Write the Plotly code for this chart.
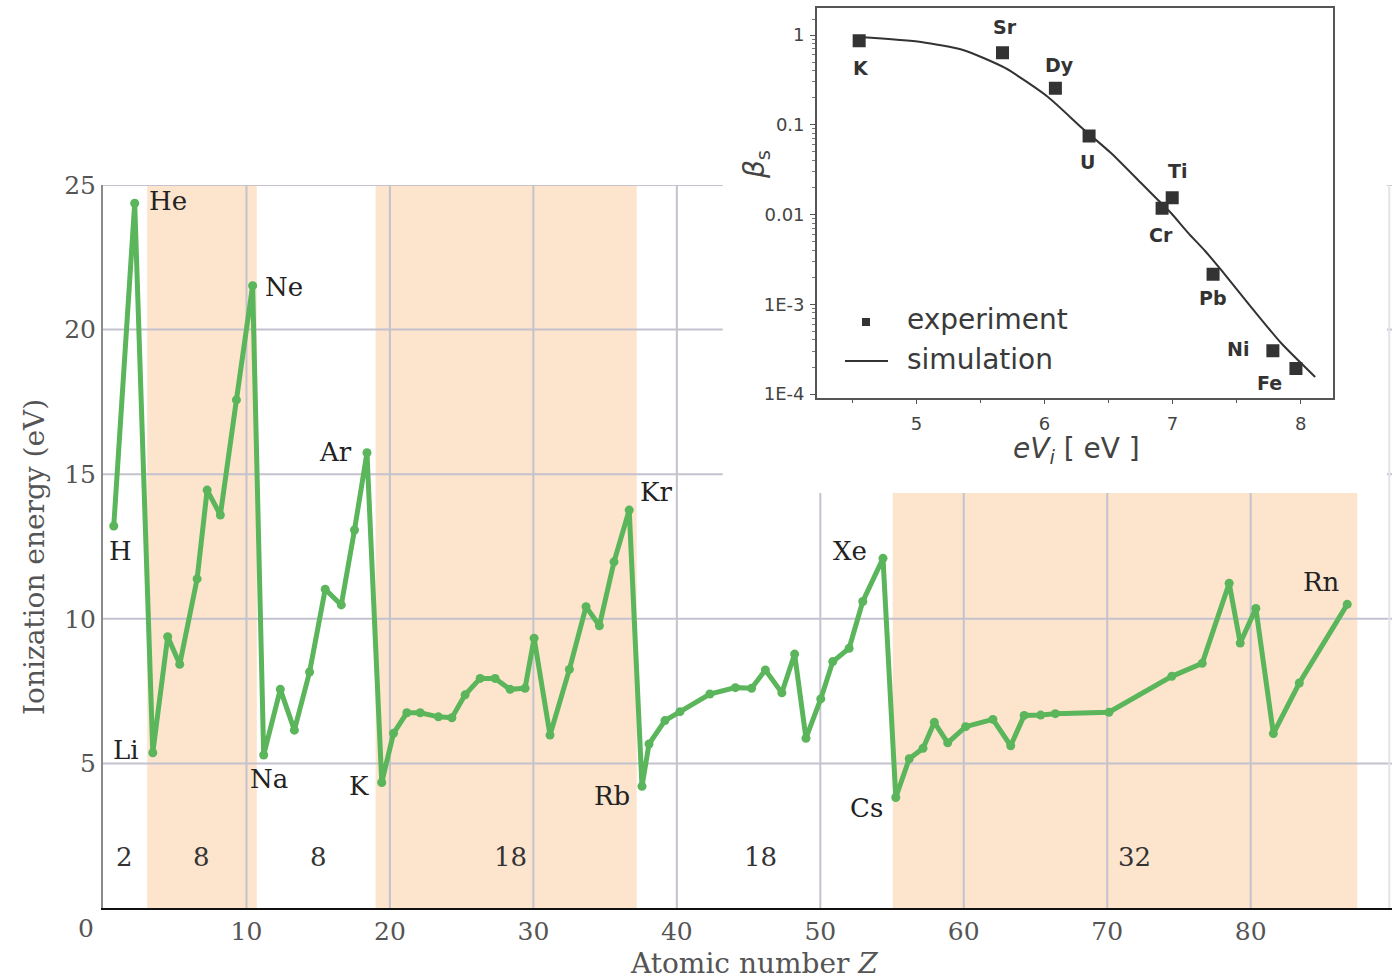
import math
import plotly.graph_objects as go

W, H = 1394, 979

# ---------------- main chart data ----------------
z_vals = [0.75, 2.21, 3.47, 4.51, 5.35, 6.56, 7.26, 8.18, 9.30, 10.43,
          11.20, 12.36, 13.34, 14.40, 15.49, 16.61, 17.53, 18.40, 19.43, 20.25,
          21.18, 22.11, 23.38, 24.32, 25.24, 26.29, 27.33, 28.38, 29.42, 30.05,
          31.16, 32.51, 33.67, 34.60, 35.62, 36.68, 37.57, 38.06, 39.17, 40.22,
          42.30, 44.08, 45.21, 46.17, 47.32, 48.21, 49.00, 50.03, 50.87, 52.01,
          52.96, 54.37, 55.26, 56.20, 57.16, 57.95, 58.88, 60.13, 62.03, 63.27,
          64.21, 65.36, 66.38, 70.12, 74.50, 76.62, 78.50, 79.27, 80.36, 81.58,
          83.39, 86.73]
ie_vals = [13.21, 24.37, 5.37, 9.38, 8.43, 11.38, 14.45, 13.59, 17.57, 21.52,
           5.29, 7.56, 6.15, 8.16, 11.02, 10.48, 13.07, 15.74, 4.34, 6.04,
           6.75, 6.75, 6.61, 6.58, 7.37, 7.94, 7.94, 7.56, 7.60, 9.33,
           5.98, 8.25, 10.42, 9.76, 11.97, 13.76, 4.21, 5.67, 6.48, 6.79,
           7.40, 7.62, 7.60, 8.23, 7.44, 8.78, 5.87, 7.23, 8.52, 8.98,
           10.60, 12.09, 3.82, 5.16, 5.52, 6.42, 5.71, 6.27, 6.52, 5.61,
           6.66, 6.67, 6.72, 6.77, 8.01, 8.46, 11.23, 9.16, 10.36, 6.03,
           7.78, 10.50]

element_names = ["H", "He", "Li", "Ne", "Na", "Ar", "K", "Kr", "Rb", "Xe", "Cs", "Rn"]
element_index = [0, 1, 2, 9, 10, 17, 18, 35, 36, 51, 52, 71]

band_starts = [3.08, 19.0, 55.05]
band_ends = [10.72, 37.2, 87.43]
shell_labels = ["2", "8", "8", "18", "18", "32"]
shell_x = [1.5, 6.86, 15.0, 28.4, 45.8, 71.9]

x_ticks = [10, 20, 30, 40, 50, 60, 70, 80]
y_ticks = [5, 10, 15, 20, 25]

# ---------------- inset data ----------------
exp_names = ["K", "Sr", "Dy", "U", "Ti", "Cr", "Pb", "Ni", "Fe"]
exp_x = [4.553, 5.672, 6.085, 6.348, 6.997, 6.918, 7.316, 7.783, 7.963]
exp_y = [0.864, 0.635, 0.255, 0.0749, 0.01538, 0.01172, 0.00216, 0.000303, 0.000193]

sim_x = [4.552, 5.036, 5.364, 5.692, 6.027, 6.293, 6.519, 6.754, 6.886, 6.988,
         7.121, 7.254, 7.379, 7.613, 7.847, 8.113]
sim_y = [0.950, 0.836, 0.681, 0.429, 0.204, 0.0920, 0.0484, 0.0224, 0.0145, 0.0104,
         0.00625, 0.00392, 0.00241, 0.000931, 0.000370, 0.000155]

inset_xticks = [5, 6, 7, 8]
inset_xminor = [4.5, 5.5, 6.5, 7.5]
inset_yticks = [1e-4, 1e-3, 1e-2, 1e-1, 1]
inset_yticktext = ["1E-4", "1E-3", "0.01", "0.1", "1"]

# ---------------- styling ----------------
GREEN = "#5ab55b"
BAND = "#fce4cd"
GRID = "#c4c2ce"
SERIF = "DejaVu Serif"
SANS = "DejaVu Sans"


def px_x(p):
    return p / W


def px_y(p):
    return 1 - p / H


fig = go.Figure()

fig.add_trace(go.Scatter(
    x=z_vals, y=ie_vals, mode="lines+markers",
    line=dict(color=GREEN, width=5),
    marker=dict(size=9, color=GREEN),
    xaxis="x", yaxis="y", showlegend=False, cliponaxis=False,
))

fig.add_trace(go.Scatter(
    x=sim_x, y=sim_y, mode="lines",
    line=dict(color="#333333", width=2, shape="spline", smoothing=0.6),
    xaxis="x2", yaxis="y2", showlegend=False,
))
fig.add_trace(go.Scatter(
    x=exp_x, y=exp_y, mode="markers",
    marker=dict(symbol="square", size=13, color="#333333"),
    xaxis="x2", yaxis="y2", showlegend=False,
))

shapes = []
inset_cut_y = 14.35   # y value where the inset white box ends
inset_cut_x = 43.2    # x value where the inset white box starts
band_tops = [25, 25, inset_cut_y]
for x0, x1, top in zip(band_starts, band_ends, band_tops):
    shapes.append(dict(type="rect", xref="x", yref="y", x0=x0, x1=x1, y0=0, y1=top,
                       fillcolor=BAND, line=dict(width=0), layer="below"))
for yv in y_ticks:
    if yv >= 15:
        shapes.append(dict(type="line", xref="x", yref="y", x0=0, x1=inset_cut_x, y0=yv, y1=yv,
                           line=dict(color=GRID, width=2), layer="below"))
        shapes.append(dict(type="line", xref="x", yref="y", x0=89.5, x1=89.85, y0=yv, y1=yv,
                           line=dict(color=GRID, width=2), layer="below"))
    else:
        shapes.append(dict(type="line", xref="x", yref="y", x0=0, x1=89.85, y0=yv, y1=yv,
                           line=dict(color=GRID, width=2), layer="below"))
for xv in x_ticks:
    top = 25 if xv <= 40 else inset_cut_y
    shapes.append(dict(type="line", xref="x", yref="y", x0=xv, x1=xv, y0=0, y1=top,
                       line=dict(color=GRID, width=2), layer="below"))
shapes.append(dict(type="line", xref="x", yref="y", x0=89.66, x1=89.66, y0=0, y1=25,
                   line=dict(color="#e4e4e8", width=2), layer="below"))

# inset legend symbols
shapes.append(dict(type="rect", xref="paper", yref="paper",
                   x0=px_x(862), x1=px_x(870), y0=px_y(326), y1=px_y(318),
                   fillcolor="#333333", line=dict(width=0)))
shapes.append(dict(type="line", xref="paper", yref="paper",
                   x0=px_x(845), x1=px_x(888), y0=px_y(361), y1=px_y(361),
                   line=dict(color="#333333", width=2)))

annotations = []


def paper_text(x, y, text, size, color, family, xanchor="center", angle=0):
    annotations.append(dict(x=px_x(x), y=px_y(y), xref="paper", yref="paper", text=text,
                            xanchor=xanchor, yanchor="middle", textangle=angle,
                            showarrow=False, font=dict(family=family, size=size, color=color)))


label_shift = {"H": (7, -25), "He": (33, 2), "Li": (-27, 3), "Ne": (31, -1),
               "Na": (5, -24), "Ar": (-31, 1), "K": (-23, -4), "Kr": (27, 18),
               "Rb": (-30, -10), "Xe": (-33, 7), "Cs": (-29, -10), "Rn": (-26, 22)}
for name, idx in zip(element_names, element_index):
    dx, dy = label_shift[name]
    annotations.append(dict(x=z_vals[idx], y=ie_vals[idx], xref="x", yref="y", text=name,
                            xanchor="center", yanchor="middle",
                            showarrow=False, xshift=dx, yshift=dy,
                            font=dict(family=SERIF, size=26, color="#222222")))
for t, xv in zip(shell_labels, shell_x):
    annotations.append(dict(x=xv, y=1.76, xref="x", yref="y", text=t, showarrow=False,
                            xanchor="center", yanchor="middle",
                            font=dict(family=SERIF, size=26, color="#333333")))

paper_text(86, 928, "0", 25, "#555555", SERIF)
paper_text(34, 557, "Ionization energy (eV)", 28, "#555555", SERIF, angle=-90)
paper_text(754, 963, "Atomic number <i>Z</i>", 28, "#555555", SERIF)

inset_shift = {"K": (2, -27), "Sr": (3, 26), "Dy": (4, 23), "U": (-2, -26), "Ti": (5, 27),
               "Cr": (-1, -27), "Pb": (0, -24), "Ni": (-35, 2), "Fe": (-26, -15)}
for name, xv, yv in zip(exp_names, exp_x, exp_y):
    dx, dy = inset_shift[name]
    annotations.append(dict(x=xv, y=math.log10(yv), xref="x2", yref="y2", text="<b>%s</b>" % name,
                            xanchor="center", yanchor="middle",
                            showarrow=False, xshift=dx, yshift=dy,
                            font=dict(family=SANS, size=19, color="#333333")))

paper_text(905, 319, "experiment", 28, "#3a3a3a", SANS, xanchor="left")
paper_text(905, 359, "simulation", 28, "#3a3a3a", SANS, xanchor="left")
paper_text(1076, 450, "<i>eV</i><sub><i>i</i></sub> [ eV ]", 28, "#444444", SANS)
paper_text(757, 165, "<i>β</i><sub>s</sub>", 28, "#444444", SANS, angle=-90)

minor_y = [m * 10 ** e for e in range(-4, 0) for m in range(2, 10)] + [1.5]
minor_y = [v for v in minor_y if v < 1.9]

fig.update_layout(
    template="none",
    width=W, height=H,
    margin=dict(l=0, r=0, t=0, b=0, pad=0),
    paper_bgcolor="white", plot_bgcolor="white",
    showlegend=False,
    xaxis=dict(domain=[103 / W, 1392 / W], range=[0, 89.85], anchor="y", automargin=False,
               showgrid=False, zeroline=False, showline=True, linecolor="#111111", linewidth=2,
               tickmode="array", tickvals=x_ticks, ticks="",
               tickfont=dict(family=SERIF, size=25, color="#555555")),
    yaxis=dict(domain=[(H - 908) / H, (H - 185) / H], range=[0, 25], anchor="x", automargin=False,
               showgrid=False, zeroline=False, showline=True, linecolor="#8a8a8a", linewidth=2,
               tickmode="array", tickvals=y_ticks, ticks="",
               tickfont=dict(family=SERIF, size=25, color="#555555")),
    xaxis2=dict(domain=[816.9 / W, 1332.7 / W], range=[4.223, 8.250], anchor="y2", automargin=False,
                showgrid=False, zeroline=False, showline=True, mirror=True,
                linecolor="#555555", linewidth=1.5,
                tickmode="array", tickvals=inset_xticks, ticks="outside", ticklen=5,
                tickcolor="#555555", ticklabelstandoff=4,
                minor=dict(tickmode="array", tickvals=inset_xminor, ticks="outside",
                           ticklen=4, tickcolor="#555555", showgrid=False),
                tickfont=dict(family=SANS, size=18, color="#444444")),
    yaxis2=dict(domain=[(H - 397.7) / H, (H - 8.3) / H], type="log", range=[-4.041, 0.2975],
                anchor="x2", automargin=False, showgrid=False, zeroline=False, showline=True,
                mirror=True, linecolor="#555555", linewidth=1.5,
                tickmode="array", tickvals=inset_yticks, ticktext=inset_yticktext,
                ticks="outside", ticklen=5, tickcolor="#555555", ticklabelstandoff=2,
                minor=dict(tickmode="array", tickvals=minor_y, ticks="outside",
                           ticklen=3, tickcolor="#777777", showgrid=False),
                tickfont=dict(family=SANS, size=18, color="#444444")),
    shapes=shapes,
    annotations=annotations,
)

fig.write_html("out.html", config={"displayModeBar": False},
               post_script="document.body.style.margin='0px';")
